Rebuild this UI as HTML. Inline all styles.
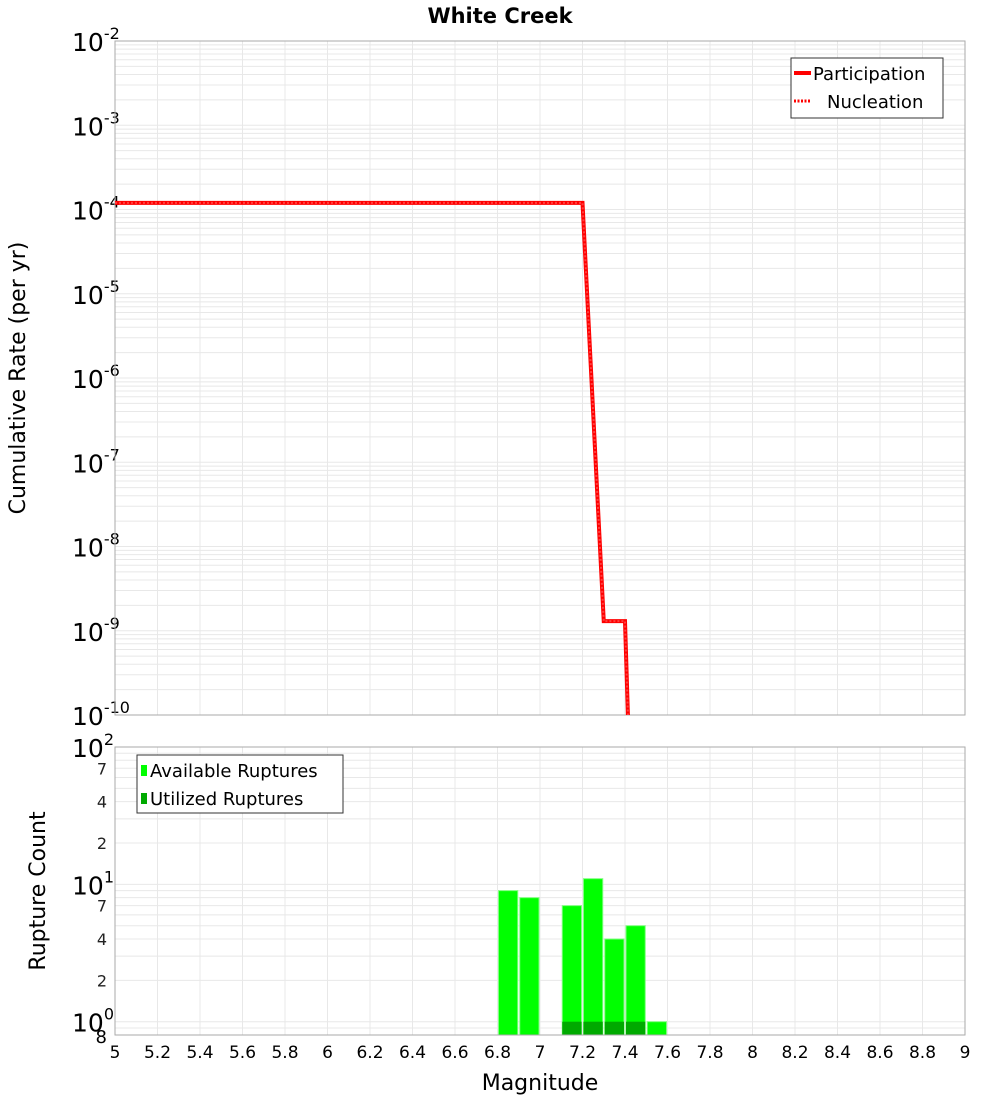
<!DOCTYPE html>
<html><head><meta charset="utf-8"><style>
body{margin:0;background:#fff;font-family:"Liberation Sans","DejaVu Sans",sans-serif}
svg text{font-family:"DejaVu Sans","Liberation Sans",sans-serif}
</style></head><body>
<svg id="c" width="1000" height="1100" xmlns="http://www.w3.org/2000/svg">
<rect width="1000" height="1100" fill="#fff"/>
<text x="500" y="23" text-anchor="middle" font-size="21" font-weight="bold">White Creek</text>
<g id="topPlot"></g>
<g id="botPlot"></g>
<text transform="translate(25,378) rotate(-90)" text-anchor="middle" font-size="22">Cumulative Rate (per yr)</text>
<text transform="translate(45,891) rotate(-90)" text-anchor="middle" font-size="22">Rupture Count</text>
<text x="540" y="1090" text-anchor="middle" font-size="22">Magnitude</text>
</svg>
<script>
const rateMags=[5,5.1,5.2,5.3,5.4,5.5,5.6,5.7,5.8,5.9,6,6.1,6.2,6.3,6.4,6.5,6.6,6.7,6.8,6.9,7,7.1,7.2,7.3,7.4,7.5];
const rateVals=[1.2e-4,1.2e-4,1.2e-4,1.2e-4,1.2e-4,1.2e-4,1.2e-4,1.2e-4,1.2e-4,1.2e-4,1.2e-4,1.2e-4,1.2e-4,1.2e-4,1.2e-4,1.2e-4,1.2e-4,1.2e-4,1.2e-4,1.2e-4,1.2e-4,1.2e-4,1.2e-4,1.3e-9,1.3e-9,1e-17];
const binMags=[6.85,6.95,7.15,7.25,7.35,7.45,7.55];
const availCounts=[9,8,7,11,4,5,1];
const usedCounts=[0,0,1,1,1,1,0];
const xTicks=[5,5.2,5.4,5.6,5.8,6,6.2,6.4,6.6,6.8,7,7.2,7.4,7.6,7.8,8,8.2,8.4,8.6,8.8,9];
const rateExps=[-2,-3,-4,-5,-6,-7,-8,-9,-10];
const countMinor=[2,4,7];

const NS="http://www.w3.org/2000/svg";
const L=115,R=965;
const X=m=>L+(m-5)/4*(R-L);
const T0=41,T1=715;
const YT=v=>T0+(-2-Math.log10(v))*(T1-T0)/8;
const B0=747,B1=1035;
const YB=v=>B0+(2-Math.log10(v))*(B1-B0)/(2-Math.log10(0.8));
function el(p,t,a,txt){const e=document.createElementNS(NS,t);for(const k in a)e.setAttribute(k,a[k]);if(txt!=null)e.textContent=txt;p.appendChild(e);return e;}
const gTop=document.getElementById('topPlot'),gBot=document.getElementById('botPlot'),svgEl=document.getElementById('c');
const defs=el(svgEl,'defs',{});
const cp=el(defs,'clipPath',{id:'ct'});el(cp,'rect',{x:L,y:T0,width:R-L,height:T1-T0});
const cb=el(defs,'clipPath',{id:'cb'});el(cb,'rect',{x:L,y:B0,width:R-L,height:B1-B0});
for(let e=-10;e<-2;e++)for(let k=1;k<10;k++){const y=YT(k*Math.pow(10,e));
 const g=el(gTop,'line',{x1:L,x2:R,y1:y,y2:y,stroke:'#e8e8e8','stroke-width':1});
 
 }
xTicks.forEach(m=>{const x=X(m);
 const g=el(gTop,'line',{x1:x,x2:x,y1:T0,y2:T1,stroke:'#e8e8e8'});
 
 
 const g2=el(gBot,'line',{x1:x,x2:x,y1:B0,y2:B1,stroke:'#e8e8e8'});
 
 
 const t=el(gBot,'text',{x:x,y:1058,'text-anchor':'middle','font-size':17},String(m));
 
 });
rateExps.forEach(e=>{const y=YT(Math.pow(10,e));
 const t=el(gTop,'text',{x:72,y:y+10,'font-size':25});
 
 
 t.textContent='10';el(t,'tspan',{dy:-12,'font-size':16},String(e));});
el(gTop,'rect',{x:L,y:T0,width:R-L,height:T1-T0,fill:'none',stroke:'#aaa'});
let d='';rateMags.forEach((m,i)=>{d+=(i?'L':'M')+X(m)+','+YT(rateVals[i]);});
const pl=el(gTop,'path',{d:d,fill:'none',stroke:'#f00','stroke-width':4,'clip-path':'url(#ct)'});


const nl=el(gTop,'path',{d:d,fill:'none',stroke:'#ff4040','stroke-width':2,'stroke-dasharray':'2,2','clip-path':'url(#ct)'});


const lg=el(gTop,'g',{});


el(lg,'rect',{x:791,y:58,width:152,height:60,fill:'#fff',stroke:'#333'});
el(lg,'line',{x1:794,x2:811,y1:73,y2:73,stroke:'#f00','stroke-width':4});
el(lg,'text',{x:813,y:80,'font-size':18},'Participation');
el(lg,'line',{x1:794,x2:811,y1:101,y2:101,stroke:'#f00','stroke-width':3,'stroke-dasharray':'2,1.5'});
el(lg,'text',{x:827,y:108,'font-size':18},'Nucleation');
for(let e=-1;e<2;e++)for(let k=1;k<10;k++){const v=k*Math.pow(10,e);if(v<0.8)continue;const y=YB(v);
 const g=el(gBot,'line',{x1:L,x2:R,y1:y,y2:y,stroke:'#e8e8e8'});
 
 }
[0,1,2].forEach(e=>{const y=YB(Math.pow(10,e));
 const t=el(gBot,'text',{x:72,y:y+10,'font-size':25});
 
 
 t.textContent='10';el(t,'tspan',{dy:-12,'font-size':16},String(e));});
[0,1].forEach(e=>countMinor.forEach(k=>{const y=YB(k*Math.pow(10,e));
 const t=el(gBot,'text',{x:107,y:y+6,'text-anchor':'end','font-size':16,fill:'#222'},String(k));
 
 }));
const t8=el(gBot,'text',{x:107,y:YB(0.8)+8,'text-anchor':'end','font-size':18},'8');


const bw=(R-L)/40;
binMags.forEach((m,i)=>{
 const x=X(m)-bw/2+1;
 const r=el(gBot,'rect',{x:x,y:YB(availCounts[i]),width:bw-2,height:B1-YB(availCounts[i]),fill:'#00ff00',stroke:'#80ff80','stroke-width':1,'clip-path':'url(#cb)'});
 
 
 if(usedCounts[i]>0){const u=el(gBot,'rect',{x:x,y:YB(usedCounts[i]),width:bw-2,height:B1-YB(usedCounts[i]),fill:'#00aa00','clip-path':'url(#cb)'});
 
 }
});
el(gBot,'rect',{x:L,y:B0,width:R-L,height:B1-B0,fill:'none',stroke:'#aaa'});
const lb=el(gBot,'g',{});


el(lb,'rect',{x:137,y:755,width:206,height:58,fill:'#fff',stroke:'#333'});
el(lb,'rect',{x:141,y:765,width:6,height:11,fill:'#00ff00'});
el(lb,'text',{x:150,y:777,'font-size':18},'Available Ruptures');
el(lb,'rect',{x:141,y:793,width:6,height:11,fill:'#00aa00'});
el(lb,'text',{x:150,y:805,'font-size':18},'Utilized Ruptures');
</script>
</body></html>
